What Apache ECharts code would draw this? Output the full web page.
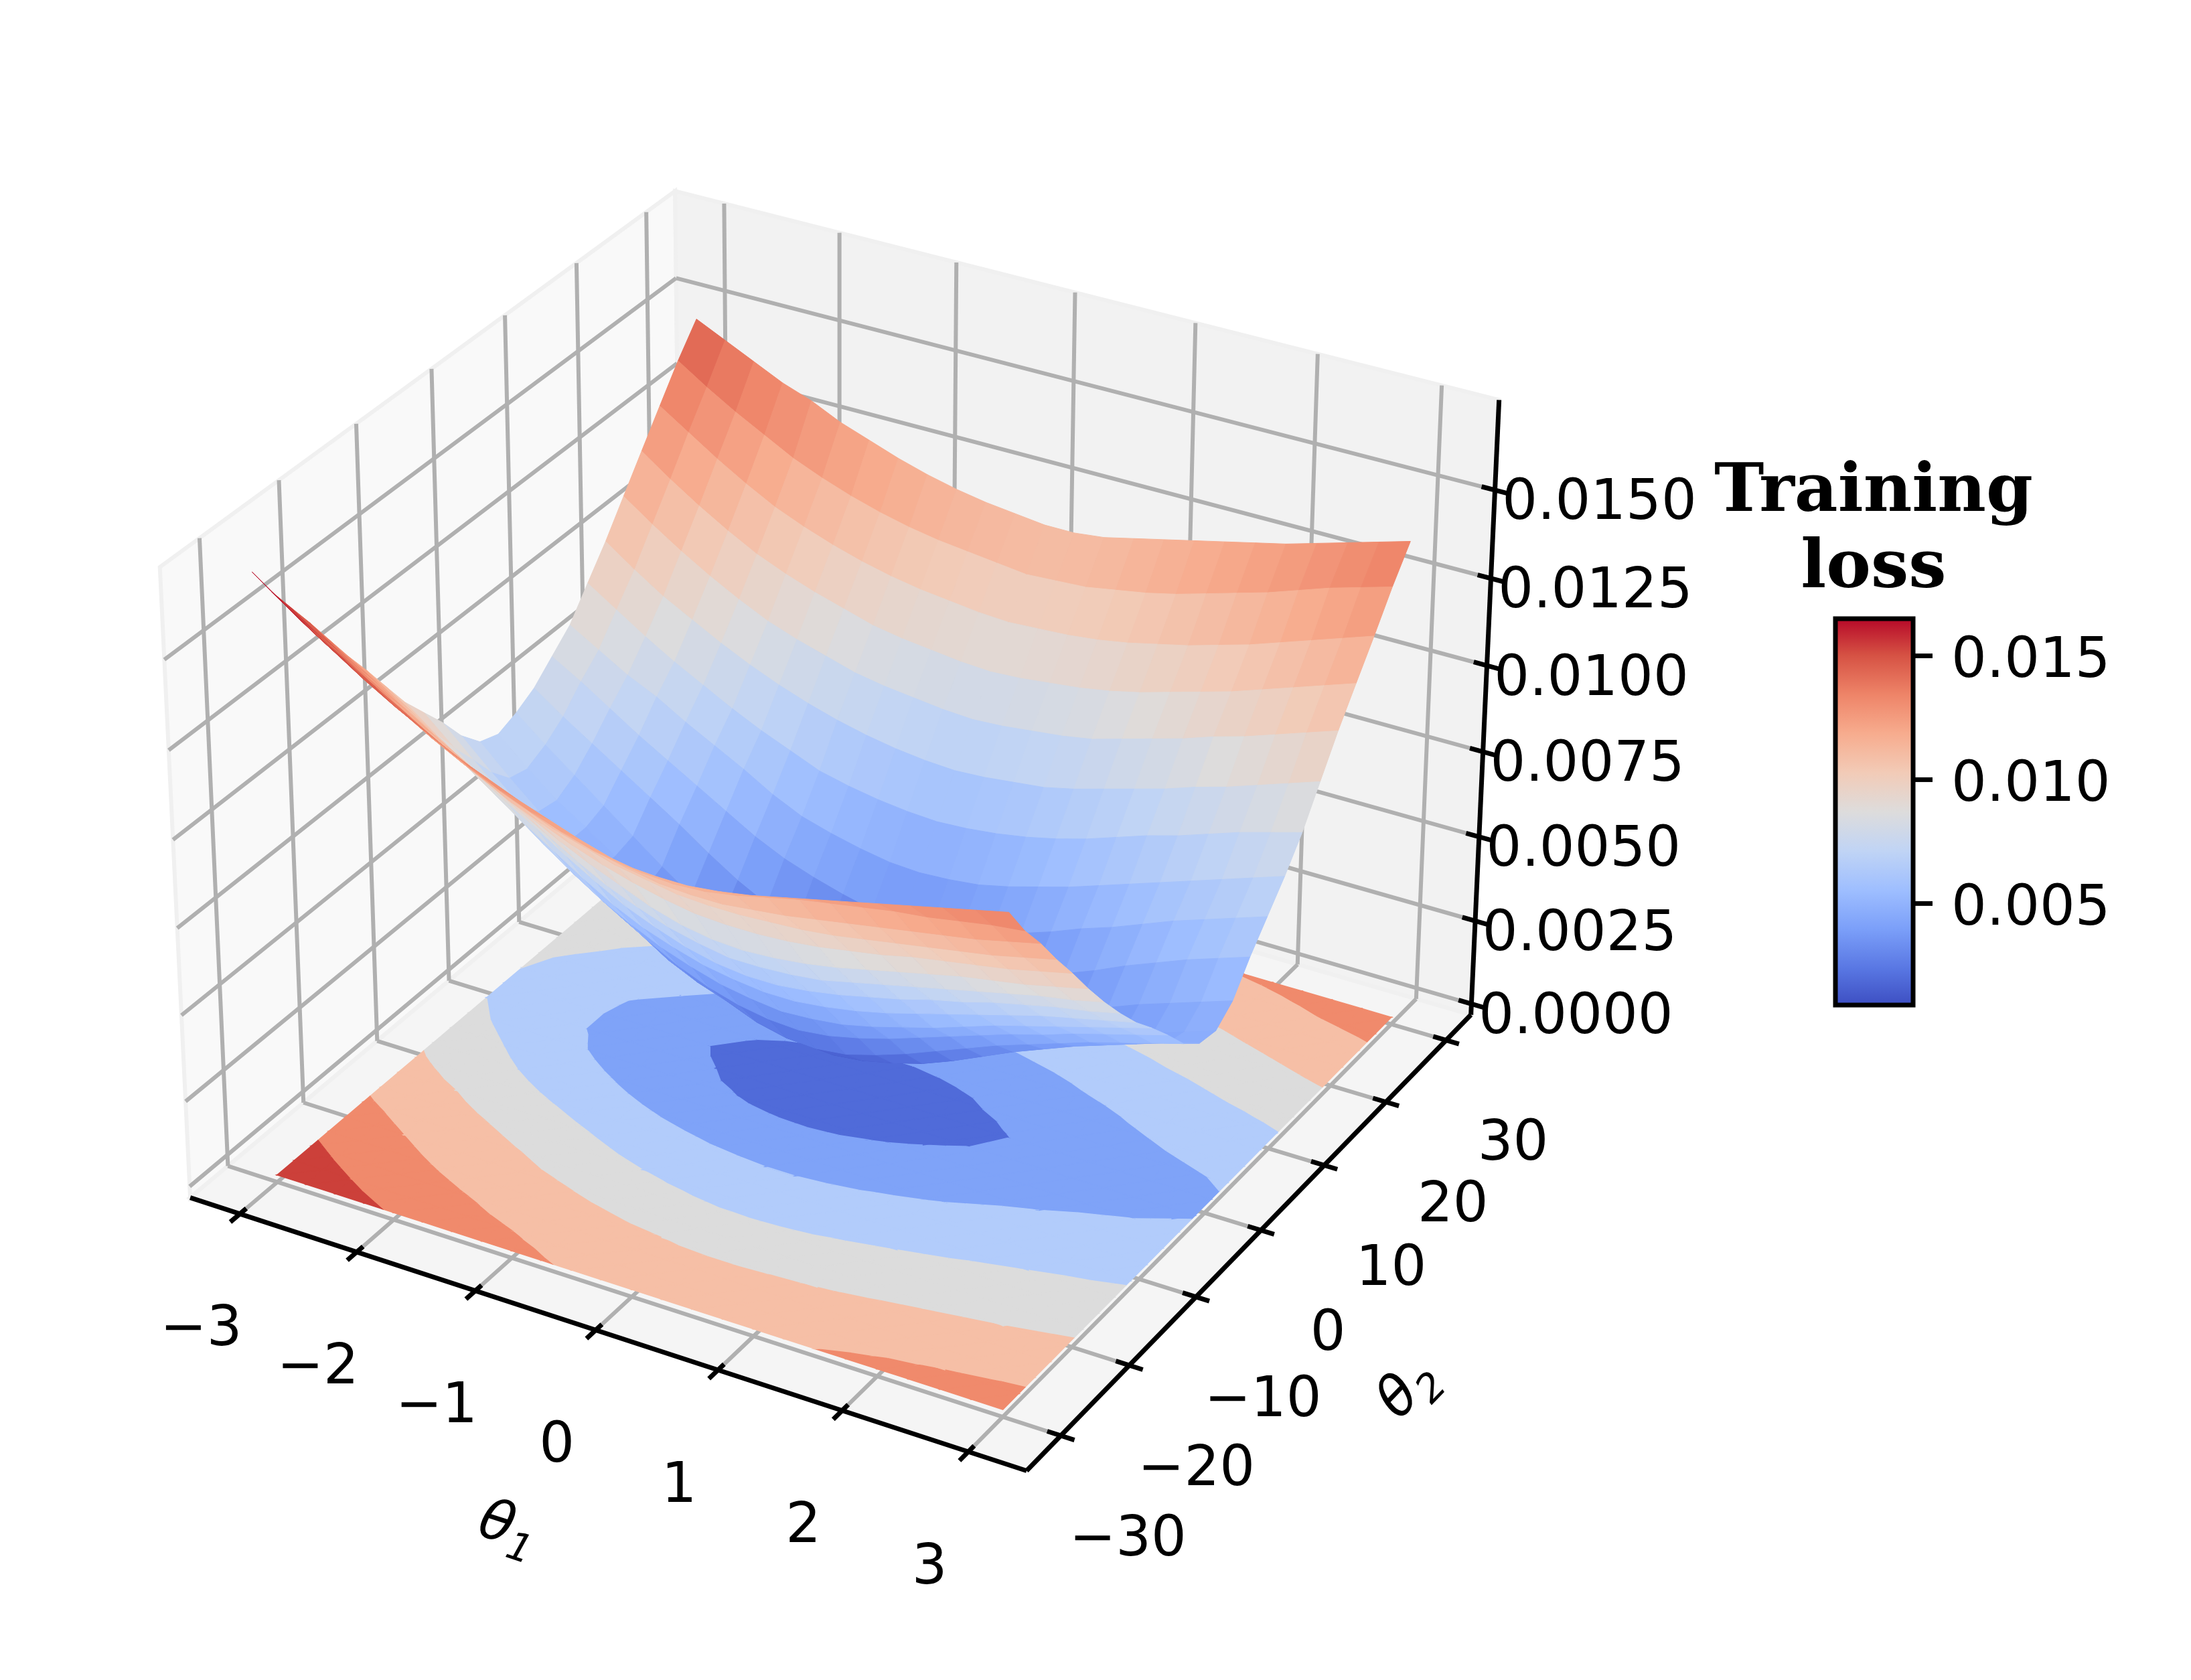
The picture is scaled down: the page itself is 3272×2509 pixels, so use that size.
<!DOCTYPE html>
<html lang="en">
<head>
    <meta charset="UTF-8">
    <title>Training loss surface</title>
    <script src="https://cdn.jsdelivr.net/npm/echarts@6/dist/echarts.min.js"></script>
    <style>body { margin: 0; background: #fff; }</style>
</head>
<body>
    <div id="main" style="width: 3272px; height: 2509px"></div>
    <script type="text/javascript">
        // grid of the surface
        var theta1Grid = [-3, -2.75, -2.5, -2.25, -2, -1.75, -1.5, -1.25, -1, -0.75, -0.5, -0.25, 0, 0.25, 0.5, 0.75, 1, 1.25, 1.5, 1.75, 2, 2.25, 2.5, 2.75, 3];
        var theta2Grid = [-30, -27.74, -25.46, -23.16, -20.83, -18.49, -16.13, -13.74, -11.33, -8.91, -6.46, -3.99, -1.5, 1.01, 3.54, 6.09, 8.67, 11.26, 13.87, 16.51, 19.17, 21.84, 24.54, 27.26, 30];
        // loss in units of 0.0001, one row per theta2, one column per theta1
        var lossRows = [
            [170,164,158,153,148,143,138,133.5,129.5,126,123,120.5,119,118.5,118.5,119.5,121,123,125,127,129,131,133,135,137],
            [161,155,149.5,144,139,134.5,130,126.5,123,120,117,114.5,113,112.5,113,114.5,116.5,118.5,120,121.5,123,124,125.5,127,128],
            [153,147,141.5,136,131,126.5,122.5,118.5,115,112,109.5,107.5,106,105.5,105.5,106.5,107.5,109,110.5,112,113.5,115,116.5,118.5,120.5],
            [145,139,133,127.5,122.5,118,114,110.5,107,104.5,102,100.5,99,98.5,98.5,99,99.5,100.5,102,103.5,105,106.5,108,110,112],
            [136.5,130.5,125,119.5,114.5,110,105.5,102,98.5,95.5,93,91,89.5,89,89,89.5,90.5,92,93.5,95.5,97,98.5,100,102,104],
            [128,122.5,117,112,107,102,97.5,93,89,85.5,82,79.5,78,77.5,78,79,80.5,82.5,84.5,86.5,88.5,90,91.5,93.5,95.5],
            [120,114,108.5,103,98,93,88,83,78.5,75,72,70,68.5,68.5,69,70,72,74,76,78,80,82,84,85.5,87.5],
            [111.5,105.5,100,94,88.5,83.5,78,73,68.5,65,62,60,59,59,60,61.5,63.5,65.5,68,70,72.5,74.5,76.5,78,80],
            [103,96.5,90,84,78,72.5,67,62,58,55,52.5,51,50,50,51,52.5,54.5,57,59.5,62,64.5,67,69,71,73],
            [96,88.5,81.5,74.5,68,62,56.5,52,48,45,42.5,41,40,40.5,41.5,43.5,46,48.5,51.5,54.5,57,59.5,62,64.5,67],
            [89,81,73.5,66,59,53,47.5,42.5,38,34.5,32,30.5,30,31,33,35.5,38.5,41.5,44.5,47.5,50,53,55.5,58,60.5],
            [81,73,65.5,58,51,44.5,38.5,33,29,26,22.5,20.5,20,21,23.5,26.5,30,33.5,37,40,43,46,48.5,51,53.5],
            [75,67,59.5,53,47,40.5,34.5,29,25,20.5,17,14.5,13.5,14.5,16.5,19,22.5,26.5,30.5,34,37.5,40.5,43.5,46.5,49],
            [73,65.5,58.5,53,47,39.5,32,26,21,16,12.5,10,9,10,12.5,15.5,19,23.5,27.5,31.5,35,38.5,42,45,48],
            [75,68,61.5,55,48.5,42,36,31,26,22,18.5,17,16.5,17,18,21,25.5,29,32.5,36,39.5,43,46,49,52],
            [78,72,66.5,61,55.5,50,44,38.5,34,30.5,28,26,25,25,26.5,29,32,35.5,39.5,43,47,50.5,54,57,60],
            [83,78,72.5,67,62,57,52,47,43,40,37.5,35.5,35,35.5,37,39,41.5,44.5,48,51,54.5,58,61,64,67],
            [88,83,78,74,69,64.5,60,55,51,48.5,46.5,45,44.5,45,46,48,50.5,53,56,59,62,65,68,71,74],
            [96,90.5,85,80,75.5,71,67,63.5,60,58,56.5,55.5,55,55.5,56.5,58,60,62.5,65.5,68.5,71,74,77,79.5,82],
            [104,98,92.5,88,83.5,79.5,76,73,70.5,68.5,67,66,65.5,66,67,68,70,72.5,75,77.5,80.5,83,86,89,92],
            [113,107,101.5,96.5,92,88,85,82.5,80,78.5,77.5,76.5,76,76.5,77.5,78.5,80,82.5,85,87.5,90.5,93,96,99,102],
            [122,116,110.5,105.5,101,97.5,94.5,92,89.5,88,87,86,85.5,86,87,88,89.5,91.5,94,96.5,99,102,105,108,111],
            [131,125.5,120,115,110.5,107,104,101.5,99.5,98,97,96,95.5,96,96.5,97.5,99,101,103,105.5,108,111,114,117,120],
            [140,134.5,129.5,125,120.5,117,114,111.5,109.5,108,107,106,105,105.5,106,107.5,109,111,113.5,116,118.5,121.5,124.5,127,129.5],
            [148,144,140,136,133,129,126,123,120.5,118.5,117,116,115,115,116,118,120,122,124,126,128,130.5,133,135.5,138]
        ];
        var theta1Ticks = [-3, -2, -1, 0, 1, 2, 3];
        var theta2Ticks = [-30, -20, -10, 0, 10, 20, 30];
        var lossTicks = [0, 0.0025, 0.005, 0.0075, 0.01, 0.0125, 0.015];
        var colorbarTicks = [0.005, 0.01, 0.015];
        var contourLevels = [0, 25, 50, 75, 100, 125, 150, 175];
        var contourColors = ['#506bd9', '#7fa3f8', '#b2ccfb', '#dcdcdc', '#f6bfa6', '#f08a6c', '#cc403a'];
        var coolwarm = ['#3b4cc0', '#5977e3', '#7b9ff9', '#9ebeff', '#c0d4f5', '#dddcdc', '#f2cbb7', '#f7ac8e', '#ee8468', '#d65244', '#b40426'];
        var lossMin = 9, lossMax = 165;

        var xlim = [-3.43, 3.457], ylim = [-34.9, 34.2], zlim = [-0.00033, 0.01752];
        var contourOffset = -0.00012;

        // same view as mplot3d with elev 30, azim -60
        var half = 0.5952, halfZ = 0.4464;
        function project(x, y, z) {
            var a = ((x - xlim[0]) / (xlim[1] - xlim[0]) - 0.5) * 2 * half;
            var b = ((y - ylim[0]) / (ylim[1] - ylim[0]) - 0.5) * 2 * half;
            var c = ((z - zlim[0]) / (zlim[1] - zlim[0]) - 0.5) * 2 * halfZ;
            var px = 0.866025 * a + 0.5 * b;
            var py = -0.25 * a + 0.433013 * b + 0.866025 * c;
            var pz = 0.433013 * a - 0.75 * b + 0.5 * c;
            var f = 10 / (10 - pz);
            return { x: 1258 + 1202 * px * f, y: 1195 - 1202 * py * f, depth: pz };
        }
        function pt(api, x, y, z) {
            var p = project(x, y, z);
            return api.coord([p.x, p.y]);
        }
        function hexToRgb(h) {
            return [parseInt(h.substr(1, 2), 16), parseInt(h.substr(3, 2), 16), parseInt(h.substr(5, 2), 16)];
        }
        function lossColor(v) {
            var t = Math.max(0, Math.min(1, (v - lossMin) / (lossMax - lossMin))) * (coolwarm.length - 1);
            var i = Math.min(Math.floor(t), coolwarm.length - 2);
            var c0 = hexToRgb(coolwarm[i]), c1 = hexToRgb(coolwarm[i + 1]);
            var k = t - i;
            return 'rgb(' + Math.round(c0[0] + (c1[0] - c0[0]) * k) + ',' + Math.round(c0[1] + (c1[1] - c0[1]) * k) + ',' + Math.round(c0[2] + (c1[2] - c0[2]) * k) + ')';
        }
        function line3d(api, p, q, color, width) {
            var s = pt(api, p[0], p[1], p[2]), e = pt(api, q[0], q[1], q[2]);
            return { type: 'line', shape: { x1: s[0], y1: s[1], x2: e[0], y2: e[1] }, style: { stroke: color, lineWidth: width } };
        }
        function pane(api, corners, color) {
            return {
                type: 'polygon',
                shape: { points: corners.map(function (c) { return pt(api, c[0], c[1], c[2]); }) },
                style: { fill: color, stroke: '#f0f0f0', lineWidth: 6 }
            };
        }

        function renderPanes(params, api) {
            var x0 = xlim[0], x1 = xlim[1], y0 = ylim[0], y1 = ylim[1], z0 = zlim[0], z1 = zlim[1];
            var kids = [
                pane(api, [[x0, y0, z0], [x0, y1, z0], [x0, y1, z1], [x0, y0, z1]], '#f9f9f9'),
                pane(api, [[x0, y1, z0], [x1, y1, z0], [x1, y1, z1], [x0, y1, z1]], '#f2f2f2'),
                pane(api, [[x0, y0, z0], [x1, y0, z0], [x1, y1, z0], [x0, y1, z0]], '#f5f5f5')
            ];
            var grey = '#b0b0b0', w = 6;
            theta1Ticks.forEach(function (t) {
                kids.push(line3d(api, [t, y0, z0], [t, y1, z0], grey, w));
                kids.push(line3d(api, [t, y1, z0], [t, y1, z1], grey, w));
            });
            theta2Ticks.forEach(function (t) {
                kids.push(line3d(api, [x0, t, z0], [x1, t, z0], grey, w));
                kids.push(line3d(api, [x0, t, z0], [x0, t, z1], grey, w));
            });
            lossTicks.forEach(function (t) {
                kids.push(line3d(api, [x0, y0, t], [x0, y1, t], grey, w));
                kids.push(line3d(api, [x0, y1, t], [x1, y1, t], grey, w));
            });
            return { type: 'group', children: kids };
        }

        // clip a triangle [x, y, loss] to one contour band
        function clipBelow(poly, level, keepAbove) {
            var out = [];
            for (var i = 0; i < poly.length; i++) {
                var a = poly[i], b = poly[(i + 1) % poly.length];
                var aIn = keepAbove ? a[2] >= level : a[2] <= level;
                var bIn = keepAbove ? b[2] >= level : b[2] <= level;
                if (aIn) out.push(a);
                if (aIn !== bIn) {
                    var k = (level - a[2]) / (b[2] - a[2]);
                    out.push([a[0] + (b[0] - a[0]) * k, a[1] + (b[1] - a[1]) * k, level]);
                }
            }
            return out;
        }
        function vertex(i, j) {
            return [theta1Grid[i], theta2Grid[j], lossRows[j][i]];
        }
        function renderContour(params, api) {
            var i = api.value(0), j = api.value(1);
            var tris = [
                [vertex(i, j), vertex(i + 1, j), vertex(i + 1, j + 1)],
                [vertex(i, j), vertex(i + 1, j + 1), vertex(i, j + 1)]
            ];
            var kids = [];
            tris.forEach(function (tri) {
                for (var b = 0; b < contourColors.length; b++) {
                    var poly = clipBelow(clipBelow(tri, contourLevels[b], true), contourLevels[b + 1], false);
                    if (poly.length < 3) continue;
                    kids.push({
                        type: 'polygon',
                        shape: { points: poly.map(function (v) { return pt(api, v[0], v[1], contourOffset); }) },
                        style: { fill: contourColors[b], stroke: contourColors[b], lineWidth: 1.5 }
                    });
                }
            });
            return { type: 'group', children: kids };
        }

        function renderFacet(params, api) {
            var i = api.value(0), j = api.value(1);
            var corners = [[i, j], [i + 1, j], [i + 1, j + 1], [i, j + 1]];
            var sum = 0;
            var pts = corners.map(function (c) {
                var v = lossRows[c[1]][c[0]];
                sum += v;
                return pt(api, theta1Grid[c[0]], theta2Grid[c[1]], v * 1e-4);
            });
            var color = lossColor(sum / 4);
            return { type: 'polygon', shape: { points: pts }, style: { fill: color, stroke: color, lineWidth: 1 } };
        }

        function label(api, text, pos, dx, dy) {
            var s = api.coord([pos.x + dx, pos.y + dy]);
            return {
                type: 'text', x: s[0], y: s[1],
                style: { text: text, x: 0, y: 0, align: 'center', verticalAlign: 'middle', fill: '#000', font: '83px "DejaVu Sans"' }
            };
        }
        function thetaLabel(api, sub, px, py, degrees) {
            var s = api.coord([px, py]);
            return {
                type: 'text', x: s[0], y: s[1], rotation: degrees * Math.PI / 180,
                style: {
                    text: '{a|\u03b8}{b|' + sub + '}', x: 0, y: 0, align: 'center', verticalAlign: 'middle', fill: '#000',
                    rich: {
                        a: { font: 'italic 83px "DejaVu Sans"', lineHeight: 100 },
                        b: { font: 'italic 58px "DejaVu Sans"', lineHeight: 100, padding: [50, 0, 0, 0] }
                    }
                }
            };
        }
        function renderAxes(params, api) {
            var x0 = xlim[0], x1 = xlim[1], y0 = ylim[0], y1 = ylim[1], z0 = zlim[0], z1 = zlim[1];
            var dx = x1 - x0, dy = y1 - y0, w = 7;
            var kids = [
                line3d(api, [x0, y0, z0], [x1, y0, z0], '#000', w),
                line3d(api, [x1, y0, z0], [x1, y1, z0], '#000', w),
                line3d(api, [x1, y1, z0], [x1, y1, z1], '#000', w)
            ];
            theta1Ticks.forEach(function (t) {
                kids.push(line3d(api, [t, y0 + 0.012 * dy, z0], [t, y0 - 0.018 * dy, z0], '#000', w));
                kids.push(label(api, String(t).replace('-', '\u2212'), project(t, y0, z0), -58, 175));
            });
            theta2Ticks.forEach(function (t) {
                kids.push(line3d(api, [x1 - 0.0155 * dx, t, z0], [x1 + 0.0155 * dx, t, z0], '#000', w));
                kids.push(label(api, String(t).replace('-', '\u2212'), project(x1, t, z0), 100, 157));
            });
            lossTicks.forEach(function (t) {
                kids.push(line3d(api, [x1 - 0.0155 * dx, y1, t], [x1 + 0.0155 * dx, y1, t], '#000', w));
                kids.push(label(api, t.toFixed(4), project(x1, y1, t), 156, 22));
            });
            kids.push(thetaLabel(api, '1', 758, 2284, -18));
            kids.push(thetaLabel(api, '2', 2104, 2076, 46));
            return { type: 'group', children: kids };
        }

        function renderColorbar(params, api) {
            var top = api.coord([0, 0.0165]), bottom = api.coord([1, 0.0009]);
            var stops = coolwarm.map(function (c, i) {
                return { offset: 1 - i / (coolwarm.length - 1), color: c };
            });
            var kids = [{
                type: 'rect',
                shape: { x: top[0], y: top[1], width: bottom[0] - top[0], height: bottom[1] - top[1] },
                style: { fill: new echarts.graphic.LinearGradient(0, 0, 0, 1, stops), stroke: '#000', lineWidth: 7 }
            }];
            colorbarTicks.forEach(function (t) {
                var p = api.coord([1, t]);
                kids.push({ type: 'line', shape: { x1: p[0], y1: p[1], x2: p[0] + 29, y2: p[1] }, style: { stroke: '#000', lineWidth: 7 } });
                kids.push({
                    type: 'text', x: p[0] + 57, y: p[1] + 10,
                    style: { text: t.toFixed(3), x: 0, y: 0, align: 'left', verticalAlign: 'middle', fill: '#000', font: '83px "DejaVu Sans"' }
                });
            });
            return { type: 'group', children: kids };
        }

        // cells of the grid, far ones first so nearer facets paint over them
        var cells = [];
        for (var j = 0; j < theta2Grid.length - 1; j++) {
            for (var i = 0; i < theta1Grid.length - 1; i++) {
                cells.push([i, j]);
            }
        }
        function cellDepth(c) {
            var x = (theta1Grid[c[0]] + theta1Grid[c[0] + 1]) / 2;
            var y = (theta2Grid[c[1]] + theta2Grid[c[1] + 1]) / 2;
            var v = (lossRows[c[1]][c[0]] + lossRows[c[1]][c[0] + 1] + lossRows[c[1] + 1][c[0]] + lossRows[c[1] + 1][c[0] + 1]) / 4;
            return project(x, y, v * 1e-4).depth;
        }
        var facets = cells.slice().sort(function (a, b) { return cellDepth(a) - cellDepth(b); });

        var chart = echarts.init(document.getElementById('main'));
        chart.setOption({
            animation: false,
            backgroundColor: '#fff',
            title: {
                text: 'Training\nloss',
                left: 2793,
                top: 675,
                textAlign: 'center',
                textStyle: { fontFamily: 'DejaVu Serif', fontWeight: 'bold', fontSize: 100, lineHeight: 114, color: '#000' }
            },
            grid: [
                { left: 0, top: 0, width: 3272, height: 2509, show: false },
                { left: 2741, top: 924, width: 116, height: 577, show: false }
            ],
            xAxis: [
                { type: 'value', gridIndex: 0, min: 0, max: 3272, show: false },
                { type: 'value', gridIndex: 1, min: 0, max: 1, show: false }
            ],
            yAxis: [
                { type: 'value', gridIndex: 0, min: 0, max: 2509, inverse: true, show: false },
                { type: 'value', gridIndex: 1, min: 0.0009, max: 0.0165, show: false }
            ],
            series: [
                { type: 'custom', name: 'panes', silent: true, z: 1, xAxisIndex: 0, yAxisIndex: 0, data: [[0, 0]], renderItem: renderPanes },
                { type: 'custom', name: 'contour', silent: true, z: 2, xAxisIndex: 0, yAxisIndex: 0, progressive: 0, data: cells, renderItem: renderContour },
                { type: 'custom', name: 'surface', silent: true, z: 3, xAxisIndex: 0, yAxisIndex: 0, progressive: 0, data: facets, renderItem: renderFacet },
                { type: 'custom', name: 'axes', silent: true, z: 4, xAxisIndex: 0, yAxisIndex: 0, data: [[0, 0]], renderItem: renderAxes },
                { type: 'custom', name: 'colorbar', silent: true, z: 2, xAxisIndex: 1, yAxisIndex: 1, data: [[0, 0.0009]], renderItem: renderColorbar }
            ]
        });
    </script>
</body>
</html>
